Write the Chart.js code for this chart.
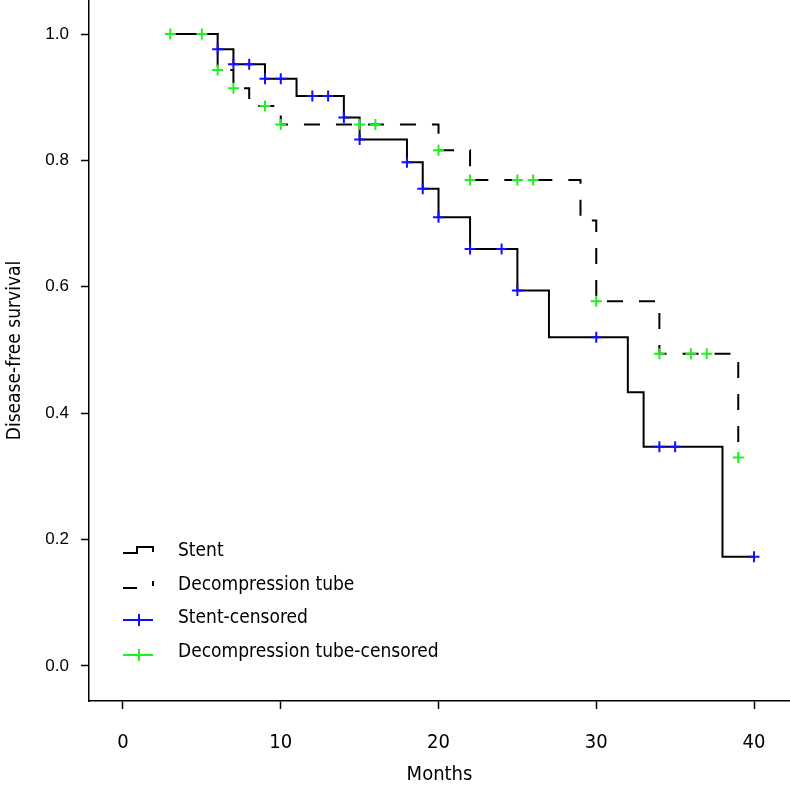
<!DOCTYPE html>
<html>
<head>
<meta charset="utf-8">
<script src="https://cdn.jsdelivr.net/npm/chart.js@4/dist/chart.umd.min.js"></script>
<style>
  html, body { margin: 0; padding: 0; background: #fff; }
  #km { display: block; }
</style>
</head>
<body>
<canvas id="km" width="790" height="792"></canvas>
<script>
// -------------------------
// DATA
// -------------------------
const stentTimes = [3, 6, 7, 9, 11, 14, 15, 18, 19, 20, 22, 25, 27, 32, 33, 38, 40];
const stentSurv  = [1.0, 0.976, 0.952, 0.929, 0.902, 0.868, 0.833, 0.797, 0.755, 0.710, 0.660, 0.594, 0.520, 0.433, 0.347, 0.173, 0.173];

const tubeTimes = [3, 6, 7, 8, 10, 20, 22, 29, 30, 34, 39];
const tubeSurv  = [1.0, 0.943, 0.914, 0.886, 0.857, 0.816, 0.769, 0.705, 0.577, 0.494, 0.330];

const stentCensorTimes = [6, 7, 8, 9, 10, 12, 13, 14, 15, 18, 19, 20, 22, 24, 25, 30, 34, 35, 40];
const stentCensorSurv  = [0.976, 0.952, 0.952, 0.929, 0.929, 0.902, 0.902, 0.868, 0.833, 0.797, 0.755, 0.710, 0.660, 0.660, 0.594, 0.520, 0.347, 0.347, 0.173];

const tubeCensorTimes = [3, 5, 6, 7, 9, 10, 15, 16, 20, 22, 25, 26, 30, 34, 36, 37, 39];
const tubeCensorSurv  = [1.0, 1.0, 0.943, 0.914, 0.886, 0.857, 0.857, 0.857, 0.816, 0.769, 0.769, 0.769, 0.577, 0.494, 0.494, 0.494, 0.330];

const xTicks = [0, 10, 20, 30, 40];
const yTicks = [0, 0.2, 0.4, 0.6, 0.8, 1.0];

const legendLabels = ["Stent", "Decompression tube", "Stent-censored", "Decompression tube-censored"];

const NARROW = "'Liberation Sans Narrow', 'DejaVu Sans Condensed', sans-serif";
const BLUE = "#1010ff";
const GREEN = "#22ee22";

function pts(xs, ys) {
  return xs.map((x, i) => ({ x: x, y: ys[i] }));
}

// -------------------------
// LEGEND (drawn inside plot)
// -------------------------
const kmLegend = {
  id: "kmLegend",
  afterDraw(chart) {
    const ctx = chart.ctx;
    const rows = [551, 585, 618, 652];
    ctx.save();
    ctx.lineWidth = 2;
    ctx.strokeStyle = "#000";

    // stent step glyph
    ctx.beginPath();
    ctx.moveTo(123, 553); ctx.lineTo(137, 553); ctx.lineTo(137, 547);
    ctx.lineTo(153, 547); ctx.lineTo(153, 552);
    ctx.stroke();

    // tube dashed glyph
    ctx.beginPath();
    ctx.moveTo(123, 588); ctx.lineTo(137, 588);
    ctx.moveTo(153, 581); ctx.lineTo(153, 586);
    ctx.stroke();

    // censored glyphs
    [[rows[2] + 2, BLUE], [rows[3] + 3, GREEN]].forEach(([y, c]) => {
      ctx.strokeStyle = c;
      ctx.beginPath();
      ctx.moveTo(123, y); ctx.lineTo(153, y);
      ctx.moveTo(139, y - 6); ctx.lineTo(139, y + 6);
      ctx.stroke();
    });

    ctx.fillStyle = "#000";
    ctx.font = "19px " + NARROW;
    ctx.textBaseline = "middle";
    ctx.textAlign = "left";
    legendLabels.forEach((t, i) => ctx.fillText(t, 178, rows[i]));
    ctx.restore();
  }
};

// -------------------------
// CHART
// -------------------------
new Chart(document.getElementById("km").getContext("2d"), {
  type: "line",
  data: {
    datasets: [
      {
        label: "Decompression tube-censored",
        data: pts(tubeCensorTimes, tubeCensorSurv),
        showLine: false,
        pointStyle: "cross",
        pointRadius: 5.5,
        pointBorderWidth: 2,
        pointBorderColor: GREEN,
        order: 0
      },
      {
        label: "Stent-censored",
        data: pts(stentCensorTimes, stentCensorSurv),
        showLine: false,
        pointStyle: "cross",
        pointRadius: 5.5,
        pointBorderWidth: 2,
        pointBorderColor: BLUE,
        order: 1
      },
      {
        label: "Stent",
        data: pts(stentTimes, stentSurv),
        stepped: "before",
        borderColor: "#000",
        borderWidth: 2,
        pointRadius: 0,
        fill: false,
        order: 2
      },
      {
        label: "Decompression tube",
        data: pts(tubeTimes, tubeSurv),
        stepped: "before",
        borderColor: "#000",
        borderWidth: 2,
        borderDash: [16, 16],
        pointRadius: 0,
        fill: false,
        order: 3
      }
    ]
  },
  options: {
    responsive: false,
    animation: false,
    devicePixelRatio: 1,
    layout: { padding: 0, autoPadding: false },
    plugins: {
      legend: { display: false },
      tooltip: { enabled: false }
    },
    scales: {
      x: {
        type: "linear",
        min: -2.155,
        max: 42.28,
        afterBuildTicks: s => { s.ticks = xTicks.map(v => ({ value: v })); },
        afterFit: s => { s.height = 91; s.paddingLeft = 0; s.paddingRight = 0; },
        grid: { drawOnChartArea: false, tickLength: 8, tickColor: "#000", tickWidth: 1.5 },
        border: { display: true, color: "#000", width: 1.5 },
        ticks: {
          color: "#000",
          padding: 22,
          maxRotation: 0,
          font: { family: NARROW, size: 20 },
          callback: v => String(v)
        },
        title: {
          display: true,
          text: "Months",
          color: "#000",
          padding: { top: 0, bottom: 5 },
          font: { family: NARROW, size: 20 }
        }
      },
      y: {
        type: "linear",
        min: -0.0554,
        max: 1.0538,
        afterBuildTicks: s => { s.ticks = yTicks.map(v => ({ value: v })); },
        afterFit: s => { s.width = 89; s.paddingTop = 0; s.paddingBottom = 0; },
        grid: { drawOnChartArea: false, tickLength: 8, tickColor: "#000", tickWidth: 1.5 },
        border: { display: true, color: "#000", width: 1.5 },
        ticks: {
          color: "#000",
          padding: 12,
          font: { family: "'Liberation Sans', Arial, sans-serif", size: 17 },
          callback: v => Number(v).toFixed(1)
        },
        title: {
          display: true,
          text: "Disease-free survival",
          color: "#000",
          padding: { top: 4, bottom: 0 },
          font: { family: NARROW, size: 19 }
        }
      }
    }
  },
  plugins: [kmLegend]
});
</script>
</body>
</html>
